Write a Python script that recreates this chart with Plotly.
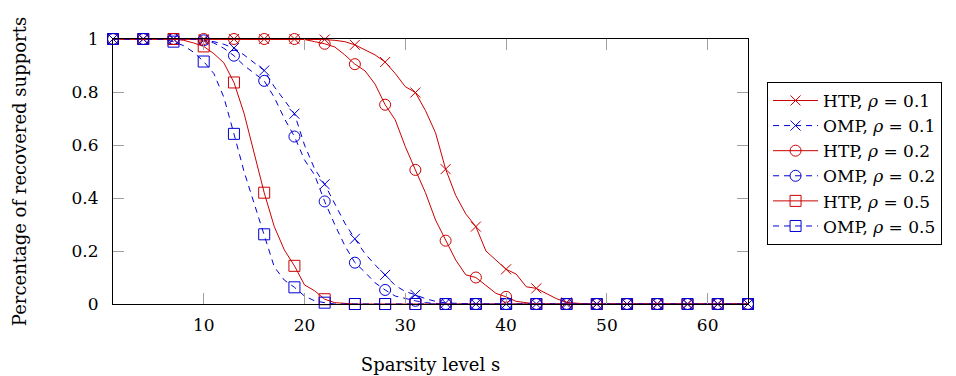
import plotly.graph_objects as go

sparsity = list(range(1, 65))

htp_01 = [1, 1, 1, 1, 1, 1, 1, 1, 1, 1, 1, 1, 1, 1, 1, 1,
          1, 1, 1, 1, 1, 0.998, 0.995, 0.99, 0.978, 0.96, 0.94, 0.913, 0.87, 0.82, 0.798, 0.73,
          0.646, 0.509, 0.41, 0.34, 0.292, 0.2, 0.165, 0.131, 0.113, 0.065, 0.059, 0.038, 0.02, 0.006, 0.002, 0,
          0, 0, 0, 0, 0, 0, 0, 0, 0, 0, 0, 0, 0, 0, 0, 0]
omp_01 = [1, 1, 1, 1, 1, 1, 1, 1, 1, 0.995, 0.99, 0.98, 0.966, 0.94, 0.91, 0.881,
          0.82, 0.77, 0.718, 0.6, 0.51, 0.452, 0.38, 0.305, 0.246, 0.19, 0.148, 0.11, 0.07, 0.047, 0.035, 0.02,
          0.01, 0.004, 0.002, 0, 0, 0, 0, 0, 0, 0, 0, 0, 0, 0, 0, 0,
          0, 0, 0, 0, 0, 0, 0, 0, 0, 0, 0, 0, 0, 0, 0, 0]
htp_02 = [1, 1, 1, 1, 1, 1, 1, 1, 1, 1, 1, 1, 1, 1, 1, 1,
          1, 1, 1, 0.998, 0.99, 0.982, 0.97, 0.94, 0.905, 0.88, 0.83, 0.752, 0.695, 0.594, 0.506, 0.42,
          0.317, 0.239, 0.166, 0.11, 0.1, 0.07, 0.04, 0.027, 0.01, 0.005, 0, 0, 0, 0, 0, 0,
          0, 0, 0, 0, 0, 0, 0, 0, 0, 0, 0, 0, 0, 0, 0, 0]
omp_02 = [1, 1, 1, 1, 1, 1, 1, 1, 1, 0.995, 0.985, 0.965, 0.937, 0.9, 0.87, 0.842,
          0.78, 0.7, 0.632, 0.544, 0.487, 0.387, 0.3, 0.22, 0.156, 0.12, 0.08, 0.053, 0.03, 0.02, 0.012, 0.005,
          0.002, 0, 0, 0, 0, 0, 0, 0, 0, 0, 0, 0, 0, 0, 0, 0,
          0, 0, 0, 0, 0, 0, 0, 0, 0, 0, 0, 0, 0, 0, 0, 0]
htp_05 = [1, 1, 1, 1, 1, 1, 1, 0.995, 0.985, 0.972, 0.945, 0.91, 0.836, 0.72, 0.57, 0.42,
          0.292, 0.204, 0.144, 0.072, 0.05, 0.018, 0.005, 0.002, 0, 0, 0, 0, 0, 0, 0, 0,
          0, 0, 0, 0, 0, 0, 0, 0, 0, 0, 0, 0, 0, 0, 0, 0,
          0, 0, 0, 0, 0, 0, 0, 0, 0, 0, 0, 0, 0, 0, 0, 0]
omp_05 = [1, 1, 1, 1, 1, 1, 0.99, 0.975, 0.95, 0.915, 0.87, 0.78, 0.642, 0.5, 0.38, 0.263,
          0.14, 0.09, 0.063, 0.03, 0.012, 0.005, 0, 0, 0, 0, 0, 0, 0, 0, 0, 0,
          0, 0, 0, 0, 0, 0, 0, 0, 0, 0, 0, 0, 0, 0, 0, 0,
          0, 0, 0, 0, 0, 0, 0, 0, 0, 0, 0, 0, 0, 0, 0, 0]

series_names = ["HTP, <i>ρ</i> = 0.1", "OMP, <i>ρ</i> = 0.1",
                "HTP, <i>ρ</i> = 0.2", "OMP, <i>ρ</i> = 0.2",
                "HTP, <i>ρ</i> = 0.5", "OMP, <i>ρ</i> = 0.5"]
series_values = [htp_01, omp_01, htp_02, omp_02, htp_05, omp_05]
x_ticks = [10, 20, 30, 40, 50, 60]
y_ticks = [0, 0.2, 0.4, 0.6, 0.8, 1]

RED = "#cc0000"
BLUE = "#0000d4"
styles = [
    (RED, "solid", "x-thin-open", 10),
    (BLUE, "6px,5px", "x-thin-open", 10),
    (RED, "solid", "circle-open", 11),
    (BLUE, "6px,5px", "circle-open", 11),
    (RED, "solid", "square-open", 11),
    (BLUE, "6px,5px", "square-open", 11),
]

FONT = "DejaVu Serif"
fig = go.Figure()
for name, vals, (col, dash, sym, ms) in zip(series_names, series_values, styles):
    fig.add_trace(go.Scatter(x=sparsity, y=vals, mode="lines",
                             line=dict(color=col, width=1, dash=dash),
                             showlegend=False, cliponaxis=False, hoverinfo="skip"))
    fig.add_trace(go.Scatter(x=sparsity[::3], y=vals[::3], mode="markers",
                             marker=dict(symbol=sym, size=ms, color=col,
                                         line=dict(color=col, width=1)),
                             showlegend=False, cliponaxis=False))
    fig.add_trace(go.Scatter(x=[None], y=[None], mode="lines+markers", name=name,
                             line=dict(color=col, width=1, dash=dash),
                             marker=dict(symbol=sym, size=ms, color=col,
                                         line=dict(color=col, width=1)),
                             legendgroup=name))

axis_common = dict(showline=True, linecolor="black", linewidth=1, mirror="ticks",
                   ticks="inside", ticklen=11, tickcolor="#a0a0a0", tickwidth=1,
                   showgrid=False, zeroline=False, automargin=False,
                   tickfont=dict(family=FONT, size=17, color="black"))

fig.update_layout(
    width=956, height=376,
    margin=dict(l=113, r=208, t=39, b=72),
    paper_bgcolor="white", plot_bgcolor="white",
    font=dict(family=FONT, color="black"),
    xaxis=dict(range=[1, 64], tickvals=x_ticks, ticklabelstandoff=6,
               title=dict(text="Sparsity level s", font=dict(family=FONT, size=18), standoff=23),
               **axis_common),
    yaxis=dict(range=[0, 1], tickvals=y_ticks, ticklabelstandoff=10,
               title=dict(text="Percentage of recovered supports", font=dict(family=FONT, size=18), standoff=40),
               **axis_common),
    legend=dict(x=1.03, y=0.838, xanchor="left", yanchor="top",
                bordercolor="black", borderwidth=1, bgcolor="white",
                font=dict(family=FONT, size=17), tracegroupgap=0, itemwidth=45),
)

fig.write_html("out.html")
